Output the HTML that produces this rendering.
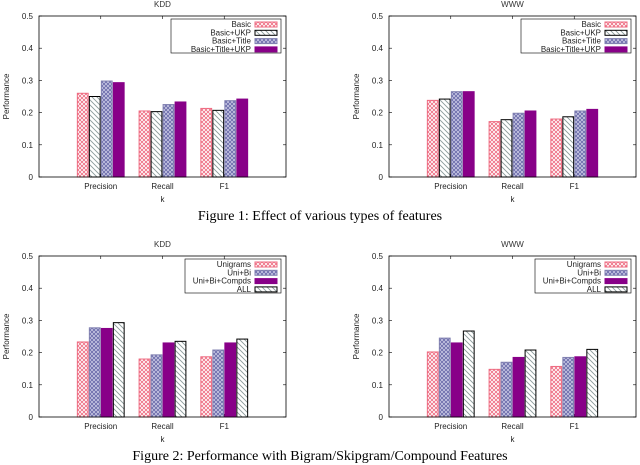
<!DOCTYPE html>
<html><head><meta charset="utf-8"><style>
html,body{margin:0;padding:0;background:#fff;}
svg{display:block;font-family:"Liberation Sans",sans-serif;}
</style></head><body>
<svg id="chart" width="640" height="465" viewBox="0 0 640 465" xmlns="http://www.w3.org/2000/svg">
<defs>
<pattern id="pRed" width="4" height="4" patternUnits="userSpaceOnUse"><rect width="4" height="4" fill="#fff"/><path d="M0,0L4,4M4,0L0,4" stroke="#ee6a80" stroke-width="0.8"/></pattern>
<pattern id="pBlue" width="4" height="4" patternUnits="userSpaceOnUse"><rect width="4" height="4" fill="#c8c8e4"/><path d="M0,0L4,4M4,0L0,4" stroke="#6868a8" stroke-width="0.8"/></pattern>
<pattern id="pDiag" width="5" height="5" patternUnits="userSpaceOnUse"><rect width="5" height="5" fill="#fff"/><path d="M0,0L5,5M-1,4L1,6M4,-1L6,1" stroke="#8a9a9a" stroke-width="0.9"/></pattern>
</defs>
<text x="320" y="220" font-family="Liberation Serif,serif" font-size="14" text-anchor="middle">Figure 1: Effect of various types of features</text>
<text x="320" y="460" font-family="Liberation Serif,serif" font-size="14" text-anchor="middle">Figure 2: Performance with Bigram/Skipgram/Compound Features</text>
</svg>
<script>
const categories = ["Precision", "Recall", "F1"];
const yTicks = [0, 0.1, 0.2, 0.3, 0.4, 0.5];
const yTickLabels = ["0", "0.1", "0.2", "0.3", "0.4", "0.5"];
const fig1Series = ["Basic", "Basic+UKP", "Basic+Title", "Basic+Title+UKP"];
const fig2Series = ["Unigrams", "Uni+Bi", "Uni+Bi+Compds", "ALL"];
const kddFig1Basic = [0.260, 0.205, 0.213];
const kddFig1Ukp = [0.250, 0.203, 0.207];
const kddFig1Title = [0.298, 0.225, 0.237];
const kddFig1All = [0.293, 0.233, 0.242];
const wwwFig1Basic = [0.238, 0.172, 0.180];
const wwwFig1Ukp = [0.242, 0.178, 0.187];
const wwwFig1Title = [0.265, 0.198, 0.205];
const wwwFig1All = [0.265, 0.205, 0.210];
const kddFig2Uni = [0.233, 0.180, 0.187];
const kddFig2Bi = [0.277, 0.193, 0.208];
const kddFig2Comp = [0.275, 0.230, 0.230];
const kddFig2All = [0.293, 0.235, 0.242];
const wwwFig2Uni = [0.202, 0.148, 0.157];
const wwwFig2Bi = [0.245, 0.170, 0.185];
const wwwFig2Comp = [0.230, 0.185, 0.187];
const wwwFig2All = [0.267, 0.208, 0.210];

const NS = "http://www.w3.org/2000/svg";
const svg = document.getElementById("chart");
function mk(tag, attrs, parent) {
  const e = document.createElementNS(NS, tag);
  for (const k in attrs) e.setAttribute(k, attrs[k]);
  (parent || svg).appendChild(e);
  return e;
}
const styles1 = [
  {fill: "url(#pRed)", stroke: "#ee6a80"},
  {fill: "url(#pDiag)", stroke: "#000"},
  {fill: "url(#pBlue)", stroke: "#8080b0"},
  {fill: "#880088", stroke: "#880088"}
];
const styles2 = [styles1[0], styles1[2], styles1[3], styles1[1]];

function panel(name, title, x0, y0, names, series, styles, legW) {
  const W = 247, H = 161;
  const g = mk("g", {});
  
  
  const ys = v => y0 + H - v / 0.5 * H;
  const xs = c => x0 + (c + 1) / 4 * W;
  const t = mk("text", {x: x0 + W / 2, y: y0 - 9, "font-size": 8, "text-anchor": "middle", fill: "#333"}, g);
  t.textContent = title;
  
  
  yTicks.forEach((v, i) => {
    const y = ys(v);
    mk("line", {x1: x0, x2: x0 + 3, y1: y, y2: y, stroke: "#000", "stroke-width": 0.6}, g);
    mk("line", {x1: x0 + W, x2: x0 + W - 3, y1: y, y2: y, stroke: "#000", "stroke-width": 0.6}, g);
    const tl = mk("text", {x: x0 - 6, y: y + 3, "font-size": 8, "text-anchor": "end", fill: "#222"}, g);
    tl.textContent = yTickLabels[i];
    
    
  });
  const yl = mk("text", {x: 0, y: 0, "font-size": 8, "text-anchor": "middle", fill: "#222", transform: `translate(${x0 - 30},${y0 + H / 2}) rotate(-90)`}, g);
  yl.textContent = "Performance";
  
  
  const bw = 12;
  categories.forEach((c, ci) => {
    const cx = xs(ci);
    mk("line", {x1: cx, x2: cx, y1: y0 + H, y2: y0 + H - 3, stroke: "#000", "stroke-width": 0.6}, g);
    mk("line", {x1: cx, x2: cx, y1: y0, y2: y0 + 3, stroke: "#000", "stroke-width": 0.6}, g);
    const cl = mk("text", {x: cx, y: y0 + H + 12, "font-size": 8, "text-anchor": "middle", fill: "#222"}, g);
    cl.textContent = c;
    
    
    series.forEach((s, si) => {
      const x = cx - 2 * bw + si * bw + 0.6;
      const y = ys(s[ci]);
      const b = mk("rect", {x: x, y: y, width: bw - 1.2, height: y0 + H - y, fill: styles[si].fill, stroke: styles[si].stroke, "stroke-width": 1}, g);
      
      
    });
  });
  const xl = mk("text", {x: x0 + W / 2, y: y0 + H + 25, "font-size": 8, "text-anchor": "middle", fill: "#222"}, g);
  xl.textContent = "k";
  
  
  mk("rect", {x: x0, y: y0, width: W, height: H, fill: "none", stroke: "#000", "stroke-width": 0.8}, g);
  const lg = mk("g", {}, g);
  
  
  const lx = x0 + W - 5 - legW, ly = y0 + 3;
  mk("rect", {x: lx, y: ly, width: legW, height: 34, fill: "#fff", stroke: "#000", "stroke-width": 0.6}, lg);
  names.forEach((n, i) => {
    const yy = ly + 5 + i * 8.3;
    const lt = mk("text", {x: lx + legW - 30, y: yy + 3, "font-size": 8, "text-anchor": "end", fill: "#222"}, lg);
    lt.textContent = n;
    
    
    mk("rect", {x: lx + legW - 26, y: yy - 2, width: 22, height: 5, fill: styles[i].fill, stroke: styles[i].stroke, "stroke-width": 1}, lg);
  });
}
panel("kdd-fig1", "KDD", 39, 16, fig1Series, [kddFig1Basic, kddFig1Ukp, kddFig1Title, kddFig1All], styles1, 110);
panel("www-fig1", "WWW", 389, 16, fig1Series, [wwwFig1Basic, wwwFig1Ukp, wwwFig1Title, wwwFig1All], styles1, 110);
panel("kdd-fig2", "KDD", 39, 256, fig2Series, [kddFig2Uni, kddFig2Bi, kddFig2Comp, kddFig2All], styles2, 96);
panel("www-fig2", "WWW", 389, 256, fig2Series, [wwwFig2Uni, wwwFig2Bi, wwwFig2Comp, wwwFig2All], styles2, 96);
</script>
</body></html>
